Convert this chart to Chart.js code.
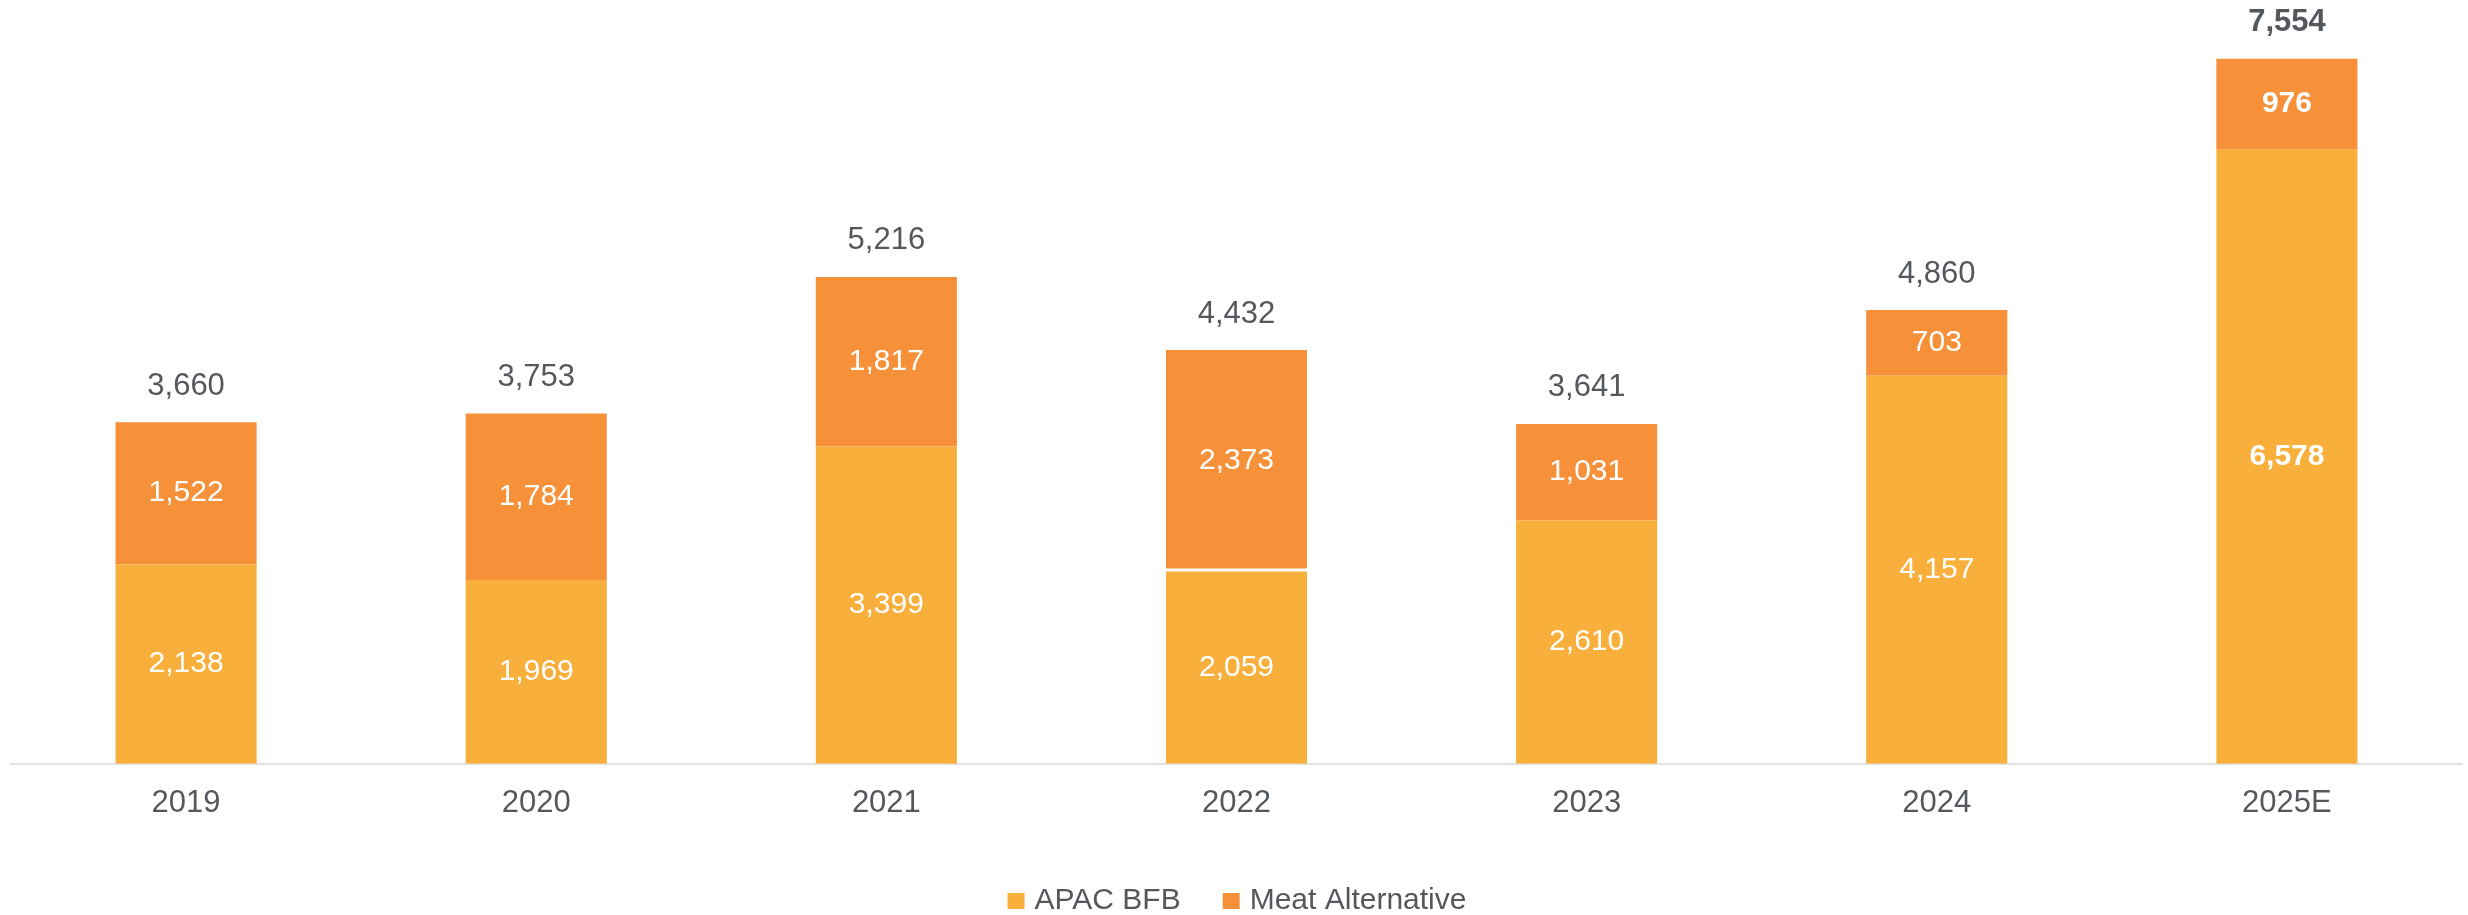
<!DOCTYPE html>
<html>
<head>
<meta charset="utf-8">
<script src="https://cdn.jsdelivr.net/npm/chart.js@4.4.1/dist/chart.umd.min.js"></script>
<style>
  html, body { margin: 0; padding: 0; background: #ffffff; }
  #wrap { position: relative; width: 2468px; height: 915px; }
</style>
</head>
<body>
<div id="wrap"><canvas id="chart" width="2468" height="915"></canvas></div>
<script>
// Yearly volumes, stacked: APAC BFB at the base, Meat Alternative on top
const years = ['2019', '2020', '2021', '2022', '2023', '2024', '2025E'];
const apacBfb = [2138, 1969, 3399, 2059, 2610, 4157, 6578];
const meatAlternative = [1522, 1784, 1817, 2373, 1031, 703, 976];
const totals = [3660, 3753, 5216, 4432, 3641, 4860, 7554];

const FONT = '"Liberation Sans", Arial, sans-serif';
const TEXT_GREY = '#54585d';
const APAC_COLOR = '#f9af3b';
const MEAT_COLOR = '#f6913a';
const ESTIMATE_INDEX = years.length - 1;

const fmt = v => v.toLocaleString('en-US');

// Writes the value inside each segment and the stack total above each bar
const valueLabels = {
  id: 'valueLabels',
  afterDatasetsDraw(chart) {
    const ctx = chart.ctx;
    ctx.save();
    ctx.textAlign = 'center';
    ctx.textBaseline = 'middle';
    chart.data.datasets.forEach((ds, di) => {
      const meta = chart.getDatasetMeta(di);
      meta.data.forEach((bar, i) => {
        const bold = i === ESTIMATE_INDEX ? 'bold ' : '';
        ctx.font = bold + '30px ' + FONT;
        ctx.fillStyle = '#ffffff';
        ctx.fillText(fmt(ds.data[i]), bar.x, (bar.y + bar.base) / 2);
      });
    });
    const topMeta = chart.getDatasetMeta(chart.data.datasets.length - 1);
    topMeta.data.forEach((bar, i) => {
      const bold = i === ESTIMATE_INDEX ? 'bold ' : '';
      ctx.font = bold + '31px ' + FONT;
      ctx.fillStyle = TEXT_GREY;
      ctx.fillText(fmt(totals[i]), bar.x, bar.y - 36);
    });
    ctx.restore();
  }
};

// Centred legend row under the axis labels
const bottomLegend = {
  id: 'bottomLegend',
  afterDraw(chart) {
    const ctx = chart.ctx;
    const size = 30, box = 17, gapBox = 10, gapItem = 42, cy = 900;
    ctx.save();
    ctx.font = size + 'px ' + FONT;
    ctx.textBaseline = 'middle';
    ctx.textAlign = 'left';
    const items = chart.data.datasets.map(ds => ({
      label: ds.label, color: ds.backgroundColor, w: ctx.measureText(ds.label).width
    }));
    const total = items.reduce((s, it) => s + box + gapBox + it.w, 0) + gapItem * (items.length - 1);
    let x = (chart.width - total) / 2 + 3;
    items.forEach(it => {
      ctx.fillStyle = it.color;
      ctx.fillRect(x, cy - 7, box, 16);
      ctx.fillStyle = TEXT_GREY;
      ctx.fillText(it.label, x + box + gapBox, cy + 1);
      x += box + gapBox + it.w + gapItem;
    });
    ctx.restore();
  }
};

new Chart(document.getElementById('chart'), {
  type: 'bar',
  data: {
    labels: years,
    datasets: [
      {
        label: 'APAC BFB',
        data: apacBfb,
        backgroundColor: APAC_COLOR,
        borderWidth: 0
      },
      {
        label: 'Meat Alternative',
        data: meatAlternative,
        backgroundColor: MEAT_COLOR,
        borderColor: '#ffffff',
        borderSkipped: false,
        borderWidth: c => c.dataIndex === 3 ? { top: 0, left: 0, right: 0, bottom: 3 } : 0
      }
    ]
  },
  options: {
    responsive: false,
    animation: false,
    devicePixelRatio: 1,
    layout: { padding: { top: 17, left: 11, right: 6, bottom: 72 } },
    datasets: { bar: { categoryPercentage: 1, barPercentage: 0.403 } },
    plugins: {
      legend: { display: false },
      tooltip: { enabled: false }
    },
    scales: {
      x: {
        stacked: true,
        grid: { display: false, drawTicks: false },
        border: { display: true, color: '#e2e2e2', width: 2 },
        ticks: { color: TEXT_GREY, font: { family: FONT, size: 31 }, padding: 21 }
      },
      y: {
        stacked: true,
        display: false,
        min: 0,
        max: 8000
      }
    }
  },
  plugins: [valueLabels, bottomLegend]
});
</script>
</body>
</html>
